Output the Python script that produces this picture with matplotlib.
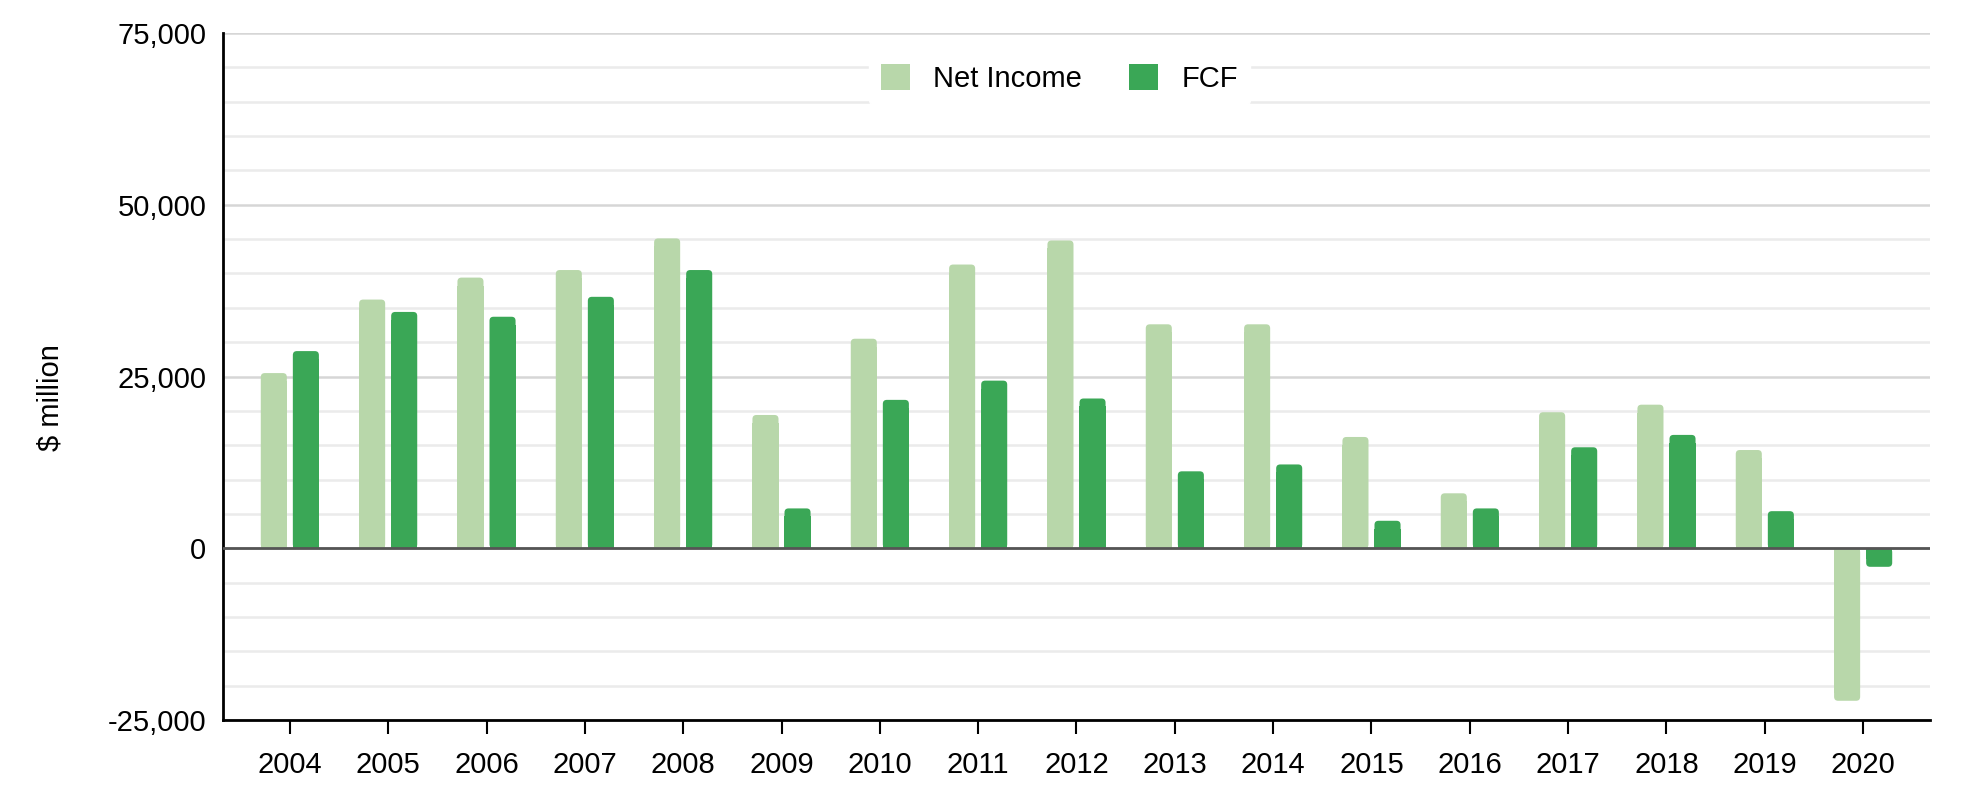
import numpy as np
import matplotlib.pyplot as plt
from matplotlib.patches import FancyBboxPatch, Patch
from matplotlib.ticker import MultipleLocator, FuncFormatter

plt.rcParams['font.family'] = ['Liberation Sans', 'DejaVu Sans']

years = ['2004', '2005', '2006', '2007', '2008', '2009', '2010', '2011', '2012',
         '2013', '2014', '2015', '2016', '2017', '2018', '2019', '2020']
net_income = [25500, 36200, 39400, 40500, 45100, 19400, 30500, 41300, 44800,
              32600, 32600, 16200, 8000, 19800, 20900, 14300, -22200]
fcf = [28700, 34400, 33700, 36600, 40500, 5800, 21600, 24400, 21800,
       11200, 12200, 4000, 5800, 14700, 16500, 5400, -2700]

light = '#b8d7aa'
dark = '#3aa756'

fig = plt.figure(figsize=(19.68, 7.9), dpi=100)
ax = fig.add_axes([0.1133, 0.0886, 0.8674, 0.8696])

x = np.arange(len(years))
w = 0.265
ax.set_xlim(-0.68, len(years) - 1 + 0.68)
ax.set_ylim(-25000, 75000)

# pixel -> data scale, for rounding the bar ends
px_x = (ax.get_xlim()[1] - ax.get_xlim()[0]) / (0.8674 * 1968)
px_y = 100000 / (0.8696 * 790)
r = 4  # corner radius in pixels


def rounded_bars(xs, vals, color):
    for xc, v in zip(xs, vals):
        x0 = xc - w / 2
        bh = abs(v)
        y0 = 0 if v > 0 else v
        ax.add_patch(FancyBboxPatch((x0, y0), w, bh,
                                    boxstyle=f'round,pad=0,rounding_size={r * px_x}',
                                    mutation_aspect=px_y / px_x,
                                    fc=color, ec='none', lw=0, zorder=3))
        # square off the end that sits on the zero line
        cut = min(bh, 2 * r * px_y)
        if v > 0:
            ax.bar(xc, bh - cut, w, bottom=0, color=color, linewidth=0, zorder=3)
        else:
            ax.bar(xc, -(bh - cut), w, bottom=0, color=color, linewidth=0, zorder=3)


rounded_bars(x - 0.163, net_income, light)
rounded_bars(x + 0.163, fcf, dark)

ax.yaxis.set_major_locator(MultipleLocator(25000))
ax.yaxis.set_minor_locator(MultipleLocator(5000))
ax.yaxis.set_major_formatter(FuncFormatter(lambda v, p: f'{int(v):,}'))
ax.grid(axis='y', which='minor', color='#ebebeb', lw=1.8, zorder=0)
ax.grid(axis='y', which='major', color='#d6d6d6', lw=1.8, zorder=0)
ax.axhline(0, color='#555555', lw=2, zorder=4)

ax.set_xticks(x)
ax.set_xticklabels(years)
ax.tick_params(axis='x', length=10, width=1.5, color='black', labelsize=21, pad=12)
ax.tick_params(axis='y', which='both', length=0, labelsize=21, pad=12)

for s in ['top', 'right']:
    ax.spines[s].set_visible(False)
for s in ['left', 'bottom']:
    ax.spines[s].set_color('black')
    ax.spines[s].set_linewidth(2)

fig.text(0.0255, 0.497, '$ million', rotation=90, ha='center', va='center', fontsize=21)

handles = [Patch(fc=light, ec='none'), Patch(fc=dark, ec='none')]
leg = ax.legend(handles, ['Net Income', 'FCF'], loc='center', bbox_to_anchor=(0.49, 0.934),
                ncol=2, frameon=True, fontsize=21, handlelength=1.0, handleheight=1.0,
                columnspacing=1.6, handletextpad=0.8, borderpad=0.4)
leg.get_frame().set_edgecolor('white')
leg.get_frame().set_facecolor('white')
leg.get_frame().set_alpha(1)
leg.set_zorder(5)

fig.savefig('out.png', dpi=100)
